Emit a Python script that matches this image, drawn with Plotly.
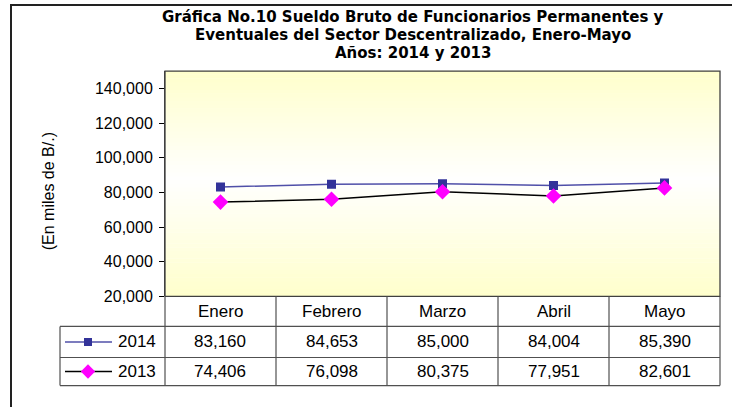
import plotly.graph_objects as go

# ---- data ----
months = ["Enero", "Febrero", "Marzo", "Abril", "Mayo"]
series_names = ["2014", "2013"]
values_2014 = [83160, 84653, 85000, 84004, 85390]
values_2013 = [74406, 76098, 80375, 77951, 82601]
y_ticks = [20000, 40000, 60000, 80000, 100000, 120000, 140000]
title_lines = [
    "Gráfica No.10 Sueldo Bruto de Funcionarios Permanentes y",
    "Eventuales del Sector Descentralizado, Enero-Mayo",
    "Años: 2014 y 2013",
]

W, H = 732, 407
S = 0.9765  # vertical correction observed in the captured page
def px(x):
    return x / W
def py(y):
    return 1 - (y / S) / H

# layout geometry (pixels in the target picture)
PL, PR, PT, PB = 165, 720, 71, 296
LEG_L = 60
ROW_LINES = [326, 357, 385]
col_w = (PR - PL) / len(months)

FONT = "Liberation Sans, Arial, sans-serif"
TFONT = "DejaVu Sans, sans-serif"

fig = go.Figure()

x_idx = list(range(len(months)))
fig.add_trace(go.Scatter(
    x=x_idx, y=values_2014, name=series_names[0], mode="lines+markers",
    line=dict(color="#5050A8", width=1.5),
    marker=dict(symbol="square", size=9, color="#333399"),
    xaxis="x", yaxis="y", showlegend=False))
fig.add_trace(go.Scatter(
    x=x_idx, y=values_2013, name=series_names[1], mode="lines+markers",
    line=dict(color="#000000", width=1.5),
    marker=dict(symbol="diamond", size=12, color="#FF00FF"),
    xaxis="x", yaxis="y", showlegend=False))

# legend keys in the table (own hidden axes)
row_centers = [(ROW_LINES[0] + ROW_LINES[1]) / 2, (ROW_LINES[1] + ROW_LINES[2]) / 2]
leg_styles = [
    dict(line=dict(color="#5050A8", width=1.5), marker=dict(symbol="square", size=8, color="#333399")),
    dict(line=dict(color="#000000", width=1.5), marker=dict(symbol="diamond", size=11, color="#FF00FF")),
]
def lx(x):
    return (x - LEG_L) / (PL - LEG_L)
def ly(y):
    return (ROW_LINES[2] - y) / (ROW_LINES[2] - ROW_LINES[0])
for name, st, rc in zip(series_names, leg_styles, row_centers):
    fig.add_trace(go.Scatter(x=[lx(65), lx(112)], y=[ly(rc), ly(rc)], mode="lines",
                             line=st["line"], xaxis="x2", yaxis="y2", showlegend=False,
                             hoverinfo="skip"))
    fig.add_trace(go.Scatter(x=[lx(88)], y=[ly(rc)], mode="markers", marker=st["marker"],
                             xaxis="x2", yaxis="y2", showlegend=False, hoverinfo="skip"))

shapes = []
# outer frame
shapes.append(dict(type="rect", xref="paper", yref="paper", x0=px(11), x1=1.05,
                   y0=py(5), y1=-0.05, line=dict(color="#222222", width=2), layer="below"))
# gradient background of plot area (yellow - white - yellow)
n = 60
def mix(t):
    r0, g0, b0 = 255, 255, 204
    return "rgb(%d,%d,%d)" % (r0 + (255 - r0) * t, g0 + (255 - g0) * t, b0 + (255 - b0) * t)
white_pos = 0.52  # fraction from bottom of plot area
for i in range(n):
    f0, f1 = i / n, (i + 1) / n
    fm = (f0 + f1) / 2
    if fm < white_pos:
        t = fm / white_pos
    else:
        t = (1 - fm) / (1 - white_pos)
    shapes.append(dict(type="rect", xref="x domain", yref="y domain", x0=0, x1=1,
                       y0=f0, y1=f1 + 0.002, line=dict(width=0), fillcolor=mix(t), layer="below"))
# plot border
shapes.append(dict(type="rect", xref="paper", yref="paper", x0=px(PL), x1=px(PR),
                   y0=py(PB), y1=py(PT), line=dict(color="#404040", width=1.3)))
# table lines
grid = dict(color="#505050", width=1.2)
for yl in ROW_LINES:
    shapes.append(dict(type="line", xref="paper", yref="paper", x0=px(LEG_L), x1=px(PR),
                       y0=py(yl), y1=py(yl), line=grid))
shapes.append(dict(type="line", xref="paper", yref="paper", x0=px(LEG_L), x1=px(LEG_L),
                   y0=py(ROW_LINES[0]), y1=py(ROW_LINES[2]), line=grid))
for i in range(len(months) + 1):
    xl = PL + i * col_w
    shapes.append(dict(type="line", xref="paper", yref="paper", x0=px(xl), x1=px(xl),
                       y0=py(PB), y1=py(ROW_LINES[2]), line=grid))

annotations = []
# title, one annotation per line
for line, yc in zip(title_lines, [17, 35, 53]):
    annotations.append(dict(
        xref="paper", yref="paper", x=px(413), y=py(yc), xanchor="center", yanchor="middle",
        showarrow=False, text=f"<b>{line}</b>",
        font=dict(family=TFONT, size=15, color="#000000")))
# y axis title
annotations.append(dict(
    xref="paper", yref="paper", x=px(48), y=py(191), xanchor="center", yanchor="middle",
    showarrow=False, textangle=-90, text="(En miles de B/.)",
    font=dict(family=FONT, size=16, color="#000000")))
# table header
hdr_c = (PB + ROW_LINES[0]) / 2
for i, m in enumerate(months):
    annotations.append(dict(xref="paper", yref="paper", x=px(PL + (i + 0.5) * col_w), y=py(hdr_c),
                            xanchor="center", yanchor="middle", showarrow=False, text=m,
                            font=dict(family=FONT, size=17, color="#000000")))
# table values
for rc, vals in zip(row_centers, [values_2014, values_2013]):
    for i, v in enumerate(vals):
        annotations.append(dict(xref="paper", yref="paper", x=px(PL + (i + 0.5) * col_w), y=py(rc),
                                xanchor="center", yanchor="middle", showarrow=False,
                                text=f"{v:,}", font=dict(family=FONT, size=17, color="#000000")))
# legend labels
for name, rc in zip(series_names, row_centers):
    annotations.append(dict(xref="paper", yref="paper", x=px(116), y=py(rc),
                            xanchor="left", yanchor="middle", showarrow=False, text=name,
                            font=dict(family=FONT, size=17, color="#000000")))

fig.update_layout(
    width=W, height=H,
    margin=dict(l=0, r=0, t=0, b=0),
    paper_bgcolor="#FFFFFF", plot_bgcolor="rgba(0,0,0,0)",
    xaxis=dict(domain=[px(PL), px(PR)], range=[-0.5, len(months) - 0.5],
               showticklabels=False, showgrid=False, zeroline=False, ticks="",
               fixedrange=True),
    yaxis=dict(domain=[py(PB), py(PT)], range=[20000, 150000], tickvals=y_ticks,
               tickformat=",", ticks="outside", ticklen=5, tickcolor="#000000",
               ticklabelstandoff=3,
               showline=True, linecolor="#404040", linewidth=1, showgrid=False,
               zeroline=False, tickfont=dict(family=FONT, size=16, color="#000000")),
    xaxis2=dict(domain=[px(LEG_L), px(PL)], range=[0, 1], visible=False, anchor="y2"),
    yaxis2=dict(domain=[py(ROW_LINES[2]), py(ROW_LINES[0])], range=[0, 1], visible=False,
                anchor="x2"),
    shapes=shapes, annotations=annotations,
)

fig.write_html(
    "out.html",
    config={"displayModeBar": False},
    post_script=("document.documentElement.style.margin='0';"
                 "document.body.style.margin='0';"
                 "document.body.style.overflow='hidden';"
                 "document.documentElement.style.overflow='hidden';"),
)
